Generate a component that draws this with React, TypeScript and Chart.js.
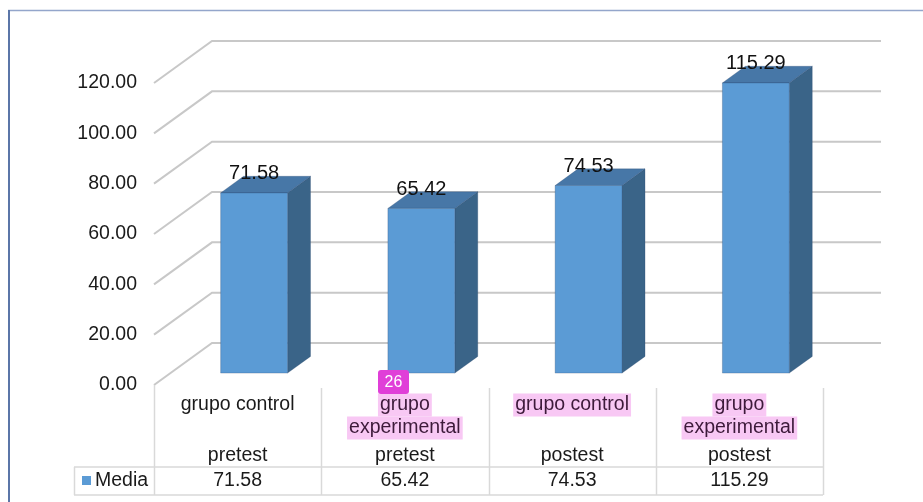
import React, { useEffect, useRef } from 'react';
import { Chart, registerables } from 'chart.js';

Chart.register(...registerables);

// ---- data ----
const categoryGroups: string[][] = [
  ['grupo control'],
  ['grupo', 'experimental'],
  ['grupo control'],
  ['grupo', 'experimental'],
];
const categoryPhases = ['pretest', 'pretest', 'postest', 'postest'];
const mediaValues = [71.58, 65.42, 74.53, 115.29];
const yTicks = [0, 20, 40, 60, 80, 100, 120];
const seriesName = 'Media';
const highlightedGroups = [false, true, true, true];
const pageBadge = '26';

// ---- style ----
const FONT = '"Liberation Sans", Arial, Helvetica, sans-serif';
const FS = 19.5;
const LFS = 20;
const DX = 58;
const DY = -42;
const F1 = 0.284;
const F2 = 0.68;
const FRONT = '#5b9bd5';
const TOP = '#4777a7';
const SIDE = '#3a6488';

function poly(ctx: CanvasRenderingContext2D, pts: number[][], fill: string) {
  ctx.beginPath();
  ctx.moveTo(pts[0][0], pts[0][1]);
  for (let i = 1; i < pts.length; i++) ctx.lineTo(pts[i][0], pts[i][1]);
  ctx.closePath();
  ctx.fillStyle = fill;
  ctx.fill();
  ctx.strokeStyle = 'rgba(40,70,110,0.35)';
  ctx.lineWidth = 0.8;
  ctx.stroke();
}

const threeDPlugin = {
  id: 'threeD',
  beforeDraw(chart: any) {
    const { ctx, width, height } = chart;
    ctx.save();
    ctx.fillStyle = '#ffffff';
    ctx.fillRect(0, 0, width, height);
    ctx.strokeStyle = '#94a6cb';
    ctx.lineWidth = 1.5;
    ctx.beginPath();
    ctx.moveTo(8, 10.5);
    ctx.lineTo(width, 10.5);
    ctx.stroke();
    ctx.strokeStyle = '#5b76a8';
    ctx.lineWidth = 2;
    ctx.beginPath();
    ctx.moveTo(9, 10);
    ctx.lineTo(9, height);
    ctx.stroke();
    ctx.restore();
  },
  beforeDatasetsDraw(chart: any) {
    const { ctx, chartArea: a, scales } = chart;
    const y = scales.y;
    ctx.save();
    ctx.strokeStyle = '#c8c8c8';
    ctx.lineWidth = 2;
    ctx.lineJoin = 'miter';
    yTicks.forEach((v) => {
      const py = y.getPixelForValue(v);
      ctx.beginPath();
      ctx.moveTo(a.left, py);
      ctx.lineTo(a.left + DX, py + DY);
      ctx.lineTo(a.right + DX, py + DY);
      ctx.stroke();
    });
    ctx.restore();
  },
  afterDatasetsDraw(chart: any) {
    const { ctx } = chart;
    const meta = chart.getDatasetMeta(0);
    ctx.save();
    meta.data.forEach((bar: any, i: number) => {
      const { x, y: top, base, width } = bar.getProps(['x', 'y', 'base', 'width'], true);
      const ox = DX * F1;
      const oy = DY * F1;
      const dx = DX * (F2 - F1);
      const dy = DY * (F2 - F1);
      const l = x - width / 2 + ox;
      const r = x + width / 2 + ox;
      const t = top + oy;
      const b = base + oy;
      poly(ctx, [[r, t], [r + dx, t + dy], [r + dx, b + dy], [r, b]], SIDE);
      poly(ctx, [[l, t], [l + dx, t + dy], [r + dx, t + dy], [r, t]], TOP);
      poly(ctx, [[l, t], [r, t], [r, b], [l, b]], FRONT);
      ctx.fillStyle = '#111111';
      ctx.font = `${LFS}px ${FONT}`;
      ctx.textAlign = 'center';
      ctx.textBaseline = 'middle';
      ctx.fillText(mediaValues[i].toFixed(2), x + ox, t - 19);
    });
    ctx.restore();
  },
  afterDraw(chart: any) {
    const { ctx, chartArea: a, scales } = chart;
    const xs = scales.x;
    const n = mediaValues.length;
    const catW = (a.right - a.left) / n;
    const rowTop = a.bottom + 82;
    const rowBot = a.bottom + 110;
    const tableLeft = 74;
    ctx.save();
    ctx.strokeStyle = '#d9d9d9';
    ctx.lineWidth = 1.5;
    for (let i = 0; i <= n; i++) {
      const px = Math.round(a.left + i * catW) + 0.5;
      ctx.beginPath();
      ctx.moveTo(px, a.bottom + (i === 0 ? 0 : 3));
      ctx.lineTo(px, rowBot);
      ctx.stroke();
    }
    ctx.beginPath();
    ctx.moveTo(tableLeft, rowTop);
    ctx.lineTo(a.right, rowTop);
    ctx.moveTo(tableLeft, rowBot);
    ctx.lineTo(a.right, rowBot);
    ctx.moveTo(tableLeft + 0.5, rowTop);
    ctx.lineTo(tableLeft + 0.5, rowBot);
    ctx.stroke();

    ctx.font = `${FS}px ${FONT}`;
    ctx.textBaseline = 'middle';
    ctx.textAlign = 'center';
    for (let i = 0; i < n; i++) {
      const cx = xs.getPixelForValue(i);
      const lines = categoryGroups[i];
      lines.forEach((ln, k) => {
        const ly = a.bottom + 20 + k * 23;
        if (highlightedGroups[i]) {
          const w = ctx.measureText(ln).width + 4;
          ctx.fillStyle = '#f8c8f4';
          ctx.fillRect(cx - w / 2, ly - 11.5, w, 23);
          ctx.fillStyle = '#3d1a3a';
        } else {
          ctx.fillStyle = '#1a1a1a';
        }
        ctx.fillText(ln, cx, ly);
      });
      ctx.fillStyle = '#1a1a1a';
      ctx.fillText(categoryPhases[i], cx, a.bottom + 71);
      ctx.fillText(mediaValues[i].toFixed(2), cx, a.bottom + 96);
    }
    ctx.fillStyle = FRONT;
    ctx.fillRect(82, a.bottom + 91, 9, 9);
    ctx.fillStyle = '#1a1a1a';
    ctx.textAlign = 'left';
    ctx.fillText(seriesName, 95, a.bottom + 96);

    const bx = 378, by = 370, bw = 31, bh = 24;
    ctx.fillStyle = '#e03fd8';
    ctx.beginPath();
    (ctx as any).roundRect(bx, by, bw, bh, 3);
    ctx.fill();
    ctx.fillStyle = '#ffffff';
    ctx.font = `16px ${FONT}`;
    ctx.textAlign = 'center';
    ctx.fillText(pageBadge, bx + bw / 2, by + bh / 2 + 1);
    ctx.restore();
  },
};

export default function App() {
  const ref = useRef<HTMLCanvasElement | null>(null);
  useEffect(() => {
    if (!ref.current) return;
    Chart.defaults.font.family = FONT;
    const chart = new Chart(ref.current, {
      type: 'bar',
      data: {
        labels: categoryGroups.map((g, i) => g.join(' ') + ' ' + categoryPhases[i]),
        datasets: [
          {
            label: seriesName,
            data: mediaValues,
            backgroundColor: 'rgba(0,0,0,0)',
            borderWidth: 0,
            categoryPercentage: 1,
            barPercentage: 0.4,
          },
        ],
      },
      options: {
        animation: false,
        responsive: false,
        maintainAspectRatio: false,
        layout: { padding: { left: 0, right: 100, top: 83, bottom: 117 } },
        plugins: { legend: { display: false }, tooltip: { enabled: false } },
        scales: {
          x: { display: false, offset: true },
          y: {
            min: 0,
            max: 120,
            afterBuildTicks: (s: any) => {
              s.ticks = yTicks.map((v) => ({ value: v }));
            },
            afterFit: (s: any) => {
              s.width = 154;
            },
            ticks: {
              padding: 17,
              color: '#1a1a1a',
              font: { family: FONT, size: FS },
              callback: (v: any) => Number(v).toFixed(2),
            },
            grid: { display: false, drawTicks: false },
            border: { display: false },
          },
        },
      },
      plugins: [threeDPlugin],
    });
    return () => chart.destroy();
  }, []);
  return (
    <div style={{ position: 'fixed', left: 0, top: 0, width: 923, height: 502 }}>
      <canvas ref={ref} width={923} height={502} style={{ width: 923, height: 502 }} />
    </div>
  );
}
